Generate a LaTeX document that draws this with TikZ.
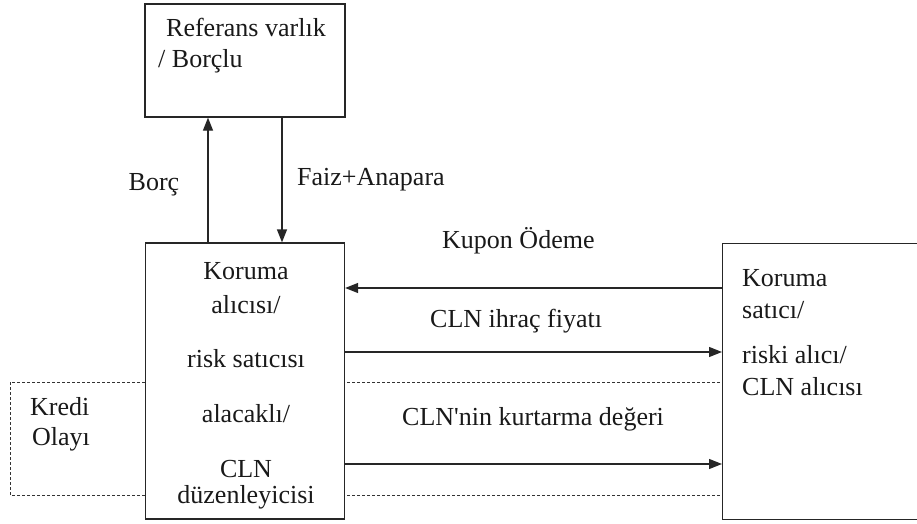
\documentclass[tikz,border=0pt]{standalone}
\usepackage{fontspec}
\setmainfont{Liberation Serif}
\usetikzlibrary{arrows.meta}
\begin{document}
\begin{tikzpicture}[x=1pt,y=-1pt,
  box/.style={draw=black!85,line width=1.3pt,fill=white,inner sep=0pt},
  arr/.style={draw=black!85,line width=1.3pt,-{Triangle[length=13pt,width=10pt]}},
  dash box/.style={draw=black!80,line width=0.9pt,dash pattern=on 3pt off 2pt},
  lbl/.style={font=\fontsize{26}{31}\selectfont,inner sep=0pt,text=black!90},
  lblw/.style={lbl,anchor=base west},
  lblc/.style={lbl,anchor=base}]
\useasboundingbox (0,0) rectangle (917,523);
% dashed credit event frame
\draw[dash box] (10,382) rectangle (722,495);
% boxes
\node[box,minimum width=200pt,minimum height=113pt] (ref) at (245,60.5) {};
\node[box,minimum width=199pt,minimum height=276pt] (lb) at (245,381) {};
\node[box,minimum width=210pt,minimum height=276pt,anchor=north west] (rb) at (722,243) {};
% helper coordinates
\coordinate (bx) at (208,0);
\coordinate (fx) at (282,0);
\coordinate (ky) at (0,288);
\coordinate (iy) at (0,352);
\coordinate (ry) at (0,464);
% connectors
\draw[arr] (lb.north -| bx) -- (ref.south -| bx);
\draw[arr] (ref.south -| fx) -- (lb.north -| fx);
\draw[arr] (rb.west |- ky) -- (lb.east |- ky);
\draw[arr] (lb.east |- iy) -- (rb.west |- iy);
\draw[arr] (lb.east |- ry) -- (rb.west |- ry);
% texts
\node[lblw] (t1) at (166,36) {Referans varlık};
\node[lblw] (t2) at (158,67) {/ Borçlu};
\node[lblc] (t3) at (154,190) {Borç};
\node[lblw] (t4) at (297,185) {Faiz+Anapara};
\node[lblw] (t5) at (442,248) {Kupon Ödeme};
\node[lblw] (t6) at (430,327) {CLN ihraç fiyatı};
\node[lblw] (t7) at (402,425) {CLN\textquotesingle nin kurtarma değeri};
\node[lblc] (l1) at (246,279) {Koruma};
\node[lblc] (l2) at (246,313) {alıcısı/};
\node[lblc] (l3) at (246,367) {risk satıcısı};
\node[lblc] (l4) at (246,422) {alacaklı/};
\node[lblc] (l5) at (246,477) {CLN};
\node[lblc] (l6) at (246,503) {düzenleyicisi};
\node[lblw] (k1) at (30,415) {Kredi};
\node[lblw] (k2) at (32,445) {Olayı};
\node[lblw] (r1) at (742,286) {Koruma};
\node[lblw] (r2) at (742,318) {satıcı/};
\node[lblw] (r3) at (742,363) {riski alıcı/};
\node[lblw] (r4) at (742,395) {CLN alıcısı};
\end{tikzpicture}
\end{document}
